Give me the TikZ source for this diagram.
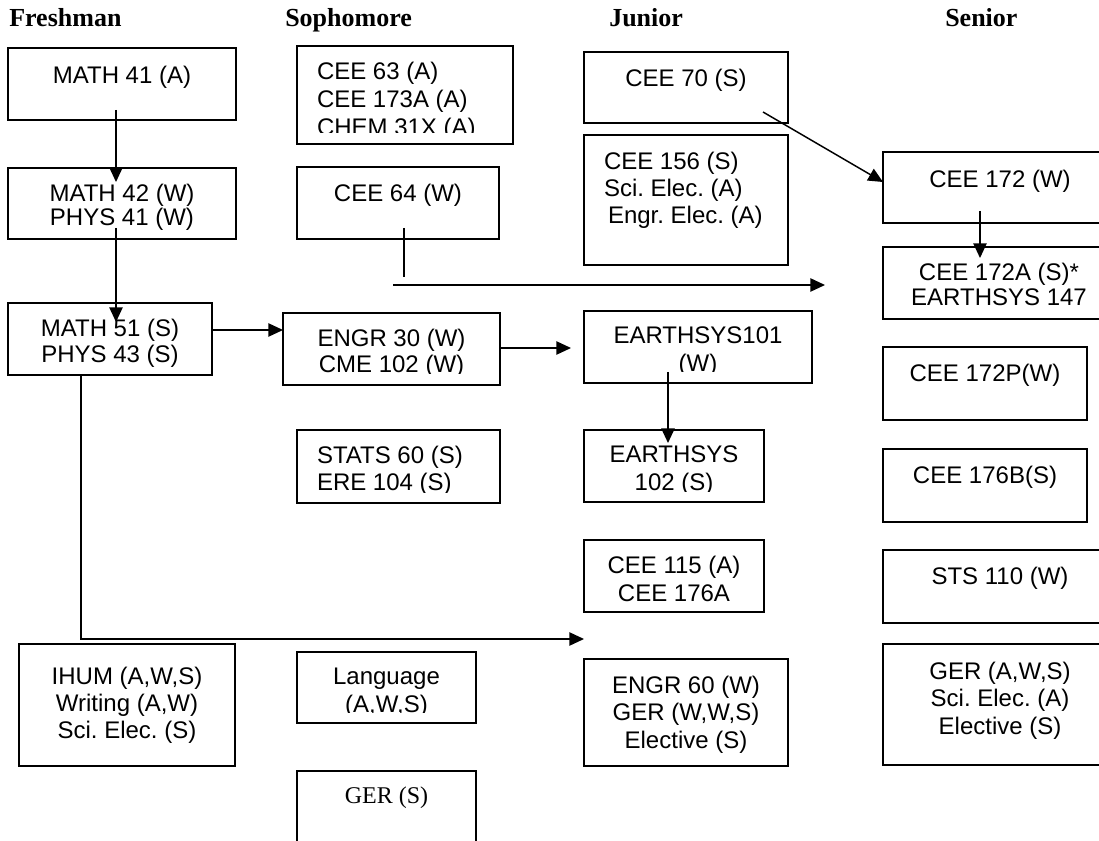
\documentclass[tikz,border=0pt]{standalone}
\usepackage{fontspec}
\newfontfamily\arialf{Liberation Sans}
\newfontfamily\timesf{Liberation Serif}
\usetikzlibrary{calc,arrows.meta}
\frenchspacing
\tikzset{
  clipmargin/.store in=\clipm, clipmargin=11,
  pitch/.store in=\lpitch, pitch=20.25pt,
  topoff/.store in=\topoff, topoff=16,
  box/.style={draw, line width=1.1pt, rectangle, inner sep=0pt, outer sep=0pt},
  txt/.style={inner sep=0pt, outer sep=0pt, align=center, font=\arialf\fontsize{18pt}{\lpitch}\selectfont\frenchspacing},
  head/.style={inner sep=0pt, anchor=base west, font=\timesf\bfseries\fontsize{19.5pt}{22pt}\selectfont},
  arr/.style={line width=1.1pt, -{Triangle[length=11pt,width=10pt]}},
  plainline/.style={line width=1.1pt},
}
% centered course box: [options] name, x1, y1, x2, y2, text
\newcommand\crsbox[7][]{%
  \node[box, anchor=north west, minimum width={(#5-#3)*0.75pt}, minimum height={(#6-#4)*0.75pt}] (#2) at (#3,#4) {};
  \begin{scope}[#1]
    \clip (#2.north west) rectangle ($(#2.south east)+(0,-\clipm)$);
    \node[txt, anchor=north] (#2-t) at ($(#2.north)+(0,\topoff)$) {#7};
  \end{scope}}
% left-aligned course box
\newcommand\crsboxl[7][]{%
  \node[box, anchor=north west, minimum width={(#5-#3)*0.75pt}, minimum height={(#6-#4)*0.75pt}] (#2) at (#3,#4) {};
  \begin{scope}[#1]
    \clip (#2.north west) rectangle ($(#2.south east)+(0,-\clipm)$);
    \node[txt, anchor=north west, align=left] (#2-t) at ($(#2.north west)+(20,\topoff)$) {#7};
  \end{scope}}
\begin{document}
\begin{tikzpicture}[x=0.75pt,y=-0.75pt]
\useasboundingbox (0,0) rectangle (1099,841);
\fill[white] (0,0) rectangle (1099,841);
\clip (0,0) rectangle (1099,841);

% headings
\node[head] (hfr) at (9,27) {Freshman};
\node[head] (hso) at (285,27) {Sophomore};
\node[head] (hju) at (609,27) {Junior};
\node[head] (hse) at (945,27) {Senior};

% Freshman
\crsbox[topoff=18]{m41}{8}{48}{236}{120}{MATH 41 (A)}
\crsbox[pitch=18pt, clipmargin=5]{m42}{8}{168}{236}{239}{MATH 42 (W)\\PHYS 41 (W)}
\crsbox[pitch=19.5pt, clipmargin=5]{m51}{8}{303}{212}{375}{MATH 51 (S)\\PHYS 43 (S)}
\crsbox[topoff=23]{ihum}{19}{644}{235}{766}{IHUM (A,W,S)\\Writing (A,W)\\Sci. Elec. (S)}

% Sophomore
\crsboxl[pitch=21pt]{c63}{297}{46}{513}{144}{CEE 63 (A)\\CEE 173A (A)\\CHEM 31X (A)}
\crsbox[topoff=17]{c64}{297}{167}{499}{239}{CEE 64 (W)}
\crsbox[pitch=19.5pt]{e30}{283}{313}{500}{385}{ENGR 30 (W)\\CME 102 (W)}
\crsboxl{st60}{297}{430}{500}{503}{STATS 60 (S)\\ERE 104 (S)}
\crsbox[pitch=21pt]{lang}{297}{652}{476}{723}{Language\\(A,W,S)}
\crsbox{gers}{297}{771}{476}{870}{\timesf GER (S)}

% Junior
\crsbox[topoff=17]{c70}{584}{52}{788}{123}{CEE 70 (S)}
\crsboxl[topoff=17]{c156}{584}{135}{788}{265}{CEE 156 (S)\\Sci. Elec. (A)\\\hspace{3pt}Engr. Elec. (A)}
\crsbox[pitch=21pt]{es101}{584}{311}{812}{383}{EARTHSYS101\\(W)}
\crsbox[pitch=21pt]{es102}{584}{430}{764}{502}{EARTHSYS\\102 (S)}
\crsbox[pitch=21pt, clipmargin=5]{c115}{584}{540}{764}{612}{CEE 115 (A)\\CEE 176A}
\crsbox[topoff=17, pitch=20.7pt, clipmargin=5]{e60}{584}{659}{788}{766}{ENGR 60 (W)\\GER (W,W,S)\\Elective (S)}

% Senior
\crsbox[topoff=18]{c172}{883}{152}{1117}{223}{CEE 172 (W)}
\crsbox[pitch=18.75pt, clipmargin=5]{c172a}{883}{247}{1115}{319}{CEE 172A (S)*\\EARTHSYS 147}
\crsbox[topoff=17]{c172p}{883}{347}{1087}{420}{CEE 172P(W)}
\crsbox[topoff=17]{c176b}{883}{449}{1087}{522}{CEE 176B(S)}
\crsbox[topoff=17]{sts}{883}{550}{1117}{623}{STS 110 (W)}
\crsbox[topoff=18, pitch=20.6pt, clipmargin=5]{gera}{883}{644}{1117}{765}{GER (A,W,S)\\Sci. Elec. (A)\\Elective (S)}

% connectors
\draw[arr] ($(m41.south west)+(108,-10)$) -- ($(m42.north west)+(108,14)$);
\draw[arr] ($(m42.south west)+(108,-11)$) -- ($(m51.north west)+(108,19)$);
\draw[arr] ($(m51.north east)+(0,27)$) -- ($(e30.north west)+(0,17)$);
\draw[arr] ($(e30.north east)+(0,35)$) -- ($(es101.north west)+(-13,37)$);
\coordinate (c64end) at ($(c64.south west)+(107,38)$);
\draw[plainline] ($(c64.south west)+(107,-11)$) -- (c64end);
\coordinate (hstart) at ($(c64.south west)+(96,46)$);
\draw[arr] (hstart) -- ($(c172a.north west)+(-58,38)$);
\draw[arr] ($(c70.south west)+(179,-11)$) -- ($(c172.north west)+(0,30)$);
\draw[arr] ($(c172.south west)+(97,-12)$) -- ($(c172a.north west)+(97,11)$);
\draw[arr] ($(es101.south west)+(84,-11)$) -- ($(es102.north west)+(84,13)$);
\coordinate (jtip) at ($(e60.north west)+(0,-20)$);
\draw[arr] ($(m51.south west)+(73,0)$) |- (jtip);
\end{tikzpicture}
\end{document}
